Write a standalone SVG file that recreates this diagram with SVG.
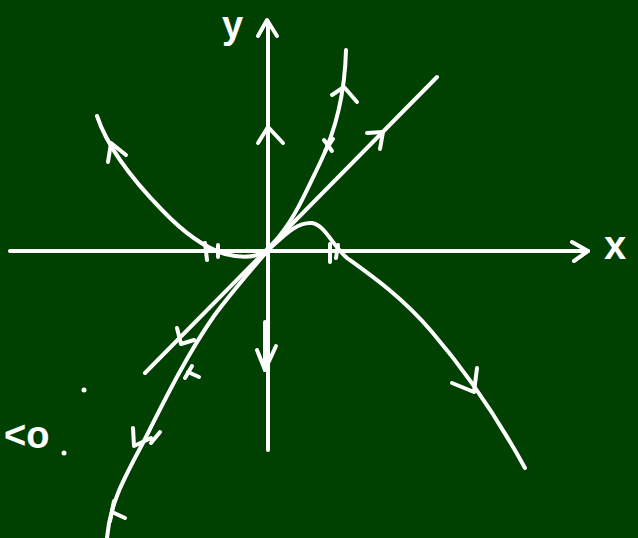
<svg xmlns="http://www.w3.org/2000/svg" width="638" height="538" viewBox="0 0 638 538">
<style>
.s{fill:none;stroke:#fff;stroke-width:4;stroke-linecap:round;stroke-linejoin:round}
.a{fill:none;stroke:#fff;stroke-width:4;stroke-linecap:round;stroke-linejoin:round}
.t{fill:#fff;font-family:"Liberation Sans",Arial,sans-serif;font-weight:bold}
</style>
<rect width="638" height="538" fill="#004000"/>
<g id="axes">
<path class="s" d="M10,251 L588,251"/>
<path class="a" d="M572,242 L588,251 L574,261"/>
<path class="s" d="M268,450 L268,22"/>
<path class="a" d="M258,36 L267,20 L277,36"/>
<path class="a" d="M258,143 L268,127 L283,143"/>
<path class="s" d="M265,322 L265,370"/>
<path class="a" d="M257,350 L265,370 L276,346"/>
</g>
<g id="labels">
<text class="t" x="222" y="38" font-size="38">y</text>
<text class="t" x="604" y="259" font-size="40">x</text>
<text class="t" x="4" y="448" font-size="38">&lt;o</text>
<circle cx="84" cy="390" r="2.5" fill="#fff"/>
<circle cx="64" cy="453" r="2.5" fill="#fff"/>
</g>
<g id="connectors">
<path class="s" d="M145,373 L437,77"/>
<path class="a" d="M367,133 L383,132 L380,149"/>
<path class="a" d="M177,328 L181,344 L194,340"/>
<path class="s" d="M346,50 C345,90 337,128 320,163 C306,192 296,215 281,234 C265,255 240,281 214,316 C190,350 168,393 146,437 C128,472 110,500 107,538"/>
<path class="a" d="M332,95 L344,87 L357,102"/>
<path class="a" d="M324,140 L332,151 M325,151 L333,139"/>
<path class="a" d="M185,378 L192,366 M188,372 L199,377"/>
<path class="a" d="M133,428 L134,446 L151,438 M160,432 L151,443"/>
<path class="a" d="M114,501 L110,521 M112,512 L125,518"/>
<path class="s" d="M97,116 C105,140 125,172 162,210 C185,234 205,248 225,254 C245,259 258,257 268,250 C282,238 295,222 312,223 C325,225 332,245 347,258 C372,276 402,297 432,332 C462,367 492,408 525,468"/>
<path class="a" d="M108,162 L111,143 L126,155"/>
<path class="a" d="M205,243 L207,260 M218,245 L218,257"/>
<path class="a" d="M330,244 L330,262 M338,245 L336,258"/>
<path class="a" d="M452,383 L474,392 L477,368"/>
</g>
</svg>
